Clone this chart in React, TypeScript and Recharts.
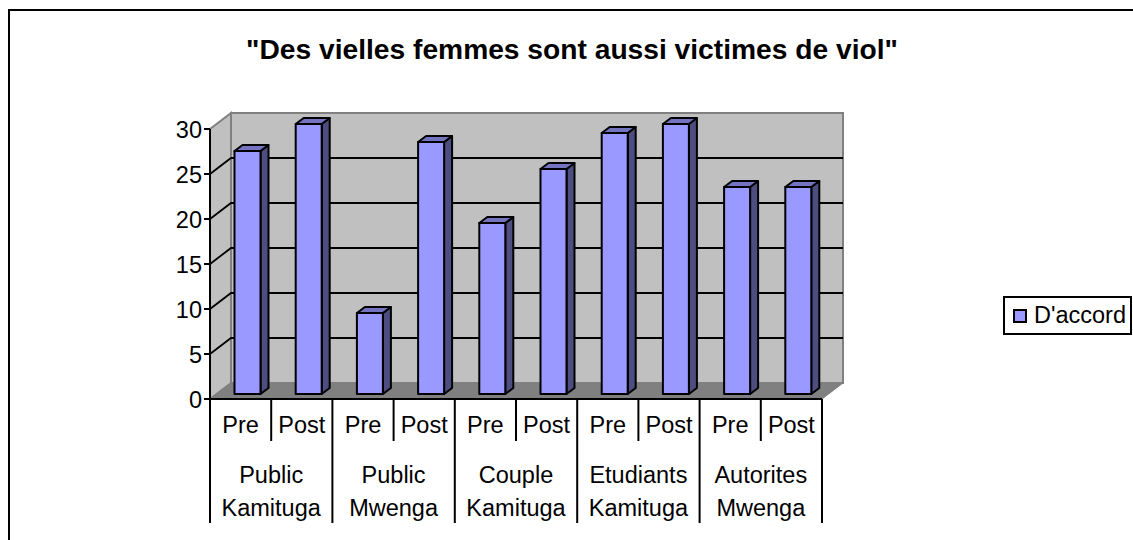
import { BarChart, Bar, XAxis, YAxis, Customized, Legend, usePlotArea } from "recharts";

const phases = ["Pre", "Post", "Pre", "Post", "Pre", "Post", "Pre", "Post", "Pre", "Post"];
const groups = [
  ["Public", "Kamituga"],
  ["Public", "Mwenga"],
  ["Couple", "Kamituga"],
  ["Etudiants", "Kamituga"],
  ["Autorites", "Mwenga"],
];
const daccord = [27, 30, 9, 28, 19, 25, 29, 30, 23, 23];
const yTicks = [0, 5, 10, 15, 20, 25, 30];
const title = '"Des vielles femmes sont aussi victimes de viol"';
const seriesName = "D'accord";

const data = phases.map((phase, i) => ({ id: i, phase, daccord: daccord[i] }));

const FONT = "'Liberation Sans', Arial, sans-serif";
const DEPTH_X = 21;
const DEPTH_Y = 16;

// walls and floor of the fake 3D box, behind the bars
function Walls() {
  const plot = usePlotArea();
  if (!plot) return null;
  const left = plot.x;
  const right = plot.x + plot.width;
  const bottom = plot.y + plot.height;
  const top = plot.y;
  const yOf = (v: number) => bottom - (v / 30) * plot.height;
  return (
    <g>
      <polygon
        points={`${left},${bottom} ${left},${top} ${left + DEPTH_X},${top - DEPTH_Y} ${left + DEPTH_X},${bottom - DEPTH_Y}`}
        fill="#c0c0c0"
        stroke="#808080"
        strokeWidth={2}
      />
      <rect
        x={left + DEPTH_X}
        y={top - DEPTH_Y}
        width={plot.width}
        height={plot.height}
        fill="#c0c0c0"
        stroke="#808080"
        strokeWidth={2}
      />
      <polygon
        points={`${left},${bottom} ${right},${bottom} ${right + DEPTH_X},${bottom - DEPTH_Y} ${left + DEPTH_X},${bottom - DEPTH_Y}`}
        fill="#808080"
        stroke="#808080"
      />
      {yTicks
        .filter((v) => v > 0 && v < 30)
        .map((v) => (
          <polyline
            key={v}
            points={`${left},${yOf(v)} ${left + DEPTH_X},${yOf(v) - DEPTH_Y} ${right + DEPTH_X},${yOf(v) - DEPTH_Y}`}
            fill="none"
            stroke="#000"
            strokeWidth={1.8}
          />
        ))}
    </g>
  );
}

function Box3D(props: any) {
  const { x, y, width, height } = props;
  const dx = 8;
  const dy = 6;
  const x0 = x + 6.5;
  const y0 = y - 5;
  return (
    <g stroke="#000" strokeWidth={2} strokeLinejoin="round">
      <polygon
        points={`${x0 + width},${y0} ${x0 + width + dx},${y0 - dy} ${x0 + width + dx},${y0 + height - dy} ${x0 + width},${y0 + height}`}
        fill="#4d4d80"
      />
      <polygon
        points={`${x0},${y0} ${x0 + dx},${y0 - dy} ${x0 + width + dx},${y0 - dy} ${x0 + width},${y0}`}
        fill="#7373bf"
      />
      <rect x={x0} y={y0} width={width} height={height} fill="#9999ff" />
    </g>
  );
}

function PhaseTick(props: any) {
  const { x, y, index } = props;
  const band = 61.2;
  const left = x - band / 2;
  const isGroupStart = index % 2 === 0;
  const group = groups[Math.floor(index / 2)];
  return (
    <g fontFamily={FONT} fill="#000">
      <line x1={left} x2={left} y1={y} y2={y + (isGroupStart ? 124 : 42)} stroke="#000" strokeWidth={2} />
      {index === phases.length - 1 && (
        <line x1={left + band} x2={left + band} y1={y} y2={y + 124} stroke="#000" strokeWidth={2} />
      )}
      <text x={x} y={y + 34} textAnchor="middle" fontSize={23.5}>
        {phases[index]}
      </text>
      {isGroupStart && (
        <text x={left + band} textAnchor="middle" fontSize={23.5}>
          <tspan x={left + band} y={y + 84}>{group[0]}</tspan>
          <tspan x={left + band} y={y + 117}>{group[1]}</tspan>
        </text>
      )}
    </g>
  );
}

function LegendBox() {
  return (
    <div
      style={{
        boxSizing: "border-box",
        width: 129,
        height: 39,
        border: "2px solid #000",
        background: "#fff",
        display: "flex",
        alignItems: "center",
        fontFamily: FONT,
        fontSize: 23.5,
        color: "#000",
        whiteSpace: "nowrap",
      }}
    >
      <span
        style={{
          boxSizing: "border-box",
          width: 14,
          height: 14,
          marginLeft: 8,
          marginRight: 7,
          background: "#9999ff",
          border: "2px solid #000",
        }}
      />
      {seriesName}
    </div>
  );
}

export default function App() {
  return (
    <div style={{ position: "absolute", left: 0, top: 0, width: 1133, height: 540, overflow: "hidden", background: "#fff" }}>
      <div style={{ position: "absolute", left: 8, top: 9, width: 1133, height: 540, borderLeft: "2px solid #000", borderTop: "2px solid #000" }} />
      <div
        style={{
          position: "absolute",
          left: 0,
          top: 33,
          width: 1144,
          textAlign: "center",
          fontFamily: FONT,
          fontWeight: "bold",
          fontSize: 28.2,
          color: "#000",
        }}
      >
        {title}
      </div>
      <BarChart
        width={1133}
        height={540}
        data={data}
        margin={{ top: 129, left: 0, right: 182, bottom: 0 }}
        style={{ position: "absolute", left: 0, top: 0 }}
      >
        <Customized component={Walls} />
        <XAxis
          dataKey="id"
          type="category"
          axisLine={{ stroke: "#000", strokeWidth: 2 }}
          tickLine={false}
          tick={<PhaseTick />}
          interval={0}
          height={141}
          tickSize={0}
          tickMargin={0}
        />
        <YAxis
          domain={[0, 30]}
          ticks={yTicks}
          width={210}
          axisLine={{ stroke: "#000", strokeWidth: 2 }}
          tickLine={{ stroke: "#000", strokeWidth: 2 }}
          tickSize={6}
          tickMargin={2}
          tick={{ fill: "#000", fontSize: 23.5, fontFamily: FONT, dy: 1 }}
          interval={0}
        />
        <Legend
          content={<LegendBox />}
          layout="vertical"
          align="right"
          verticalAlign="middle"
          width={129}
          wrapperStyle={{ position: "absolute", left: 1003, top: 296, width: 129 }}
        />
        <Bar dataKey="daccord" name={seriesName} barSize={26} shape={<Box3D />} isAnimationActive={false} />
      </BarChart>
    </div>
  );
}
